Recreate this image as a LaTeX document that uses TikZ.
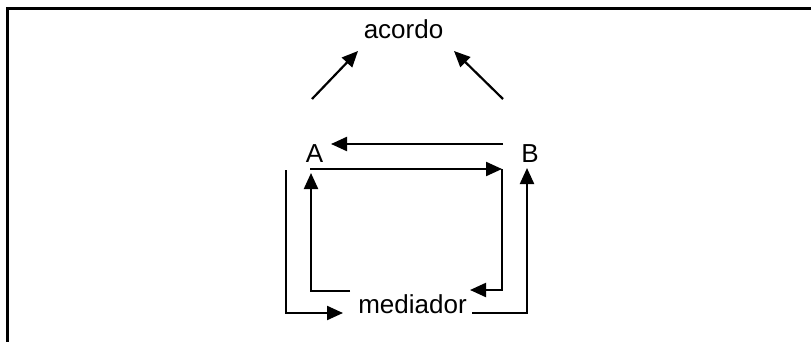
\documentclass[tikz,border=0pt]{standalone}
\usepackage{fontspec}
\setmainfont{Liberation Sans}
\usetikzlibrary{arrows.meta}
\begin{document}
\begin{tikzpicture}[x=1pt,y=-1pt,
  lbl/.style={inner sep=0pt,anchor=base,font=\fontsize{26}{30}\selectfont},
  conn/.style={line width=2.2pt,-{Triangle[length=16pt,width=14pt]}}]
\useasboundingbox (0,0) rectangle (811,342);
\fill[white] (0,0) rectangle (811,342);
\draw[line width=3pt] (7.5,342) -- (7.5,8.5) -- (811,8.5);
% labels
\node[lbl] (acordo) at (403.5,38.5) {acordo};
\node[lbl] (A) at (314.5,162.5) {A};
\node[lbl] (B) at (530,162.5) {B};
\node[lbl] (med) at (412.5,313) {mediador};
% coordinates
\coordinate (l1s) at (312,99);  \coordinate (l1e) at (358,51);
\coordinate (r1s) at (503,99);  \coordinate (r1e) at (454,51);
\coordinate (ba1) at (503,144); \coordinate (ba2) at (331,144);
\coordinate (ab1) at (310,169); \coordinate (ab2) at (502,169);
\coordinate (bm1) at (502,290); \coordinate (bm2) at (470,290);
\coordinate (ma1) at (350,291); \coordinate (ma2) at (311,291); \coordinate (ma3) at (311,173);
\coordinate (om1) at (286,170); \coordinate (om2) at (286,313); \coordinate (om3) at (343,313);
\coordinate (mb1) at (472,313); \coordinate (mb2) at (527,313); \coordinate (mb3) at (527,168);
% connectors
\draw[conn] (l1s) -- (l1e);
\draw[conn] (r1s) -- (r1e);
\draw[conn] (ba1) -- (ba2);
\draw[conn] (ab1) -- (ab2);
\draw[conn] (ab2) -- (bm1) -- (bm2);
\draw[conn] (ma1) -- (ma2) -- (ma3);
\draw[conn] (om1) -- (om2) -- (om3);
\draw[conn] (mb1) -- (mb2) -- (mb3);
\end{tikzpicture}
\end{document}
